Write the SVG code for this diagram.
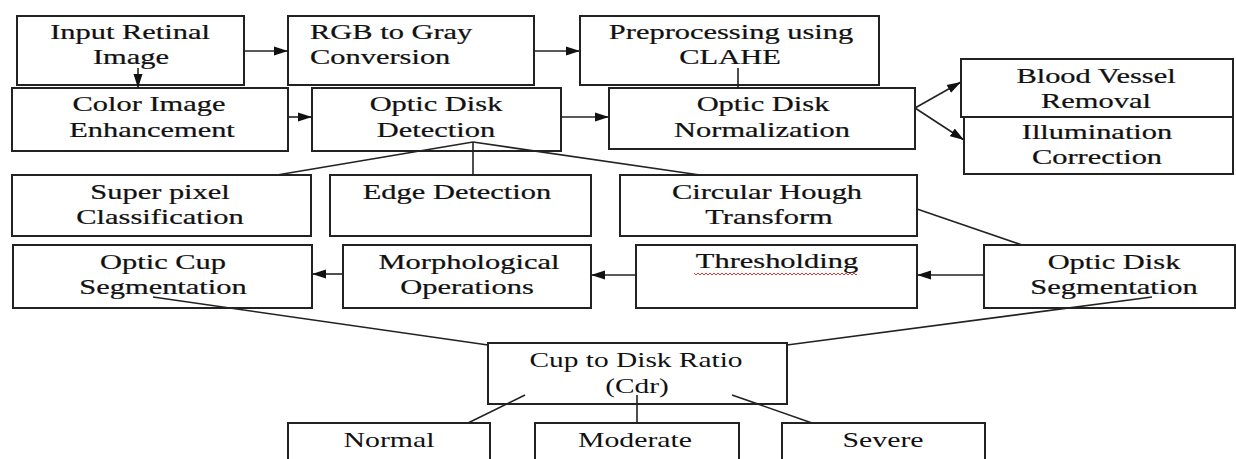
<svg xmlns="http://www.w3.org/2000/svg" width="1236" height="459" viewBox="0 0 1236 459">
  <style>
    .box { fill: #ffffff; stroke: #222222; stroke-width: 2; }
    .lbl { font-family: "Liberation Serif", "Times New Roman", "DejaVu Serif", serif; font-size: 21px; fill: #111111; stroke: #111111; stroke-width: 0.22; text-anchor: middle; }
    .thin { stroke: none; }
    .lft { text-anchor: start; }
    .edge { fill: none; stroke: #222222; stroke-width: 1.6; }
    .arr { marker-end: url(#ah); }
  </style>
  <defs>
    <marker id="ah" markerWidth="14" markerHeight="10" refX="14" refY="5" orient="auto" markerUnits="userSpaceOnUse">
      <path d="M0,0.5 L14,5 L0,9.5 z" fill="#111111"/>
    </marker>
    <pattern id="wave" width="4" height="4" patternUnits="userSpaceOnUse">
      <path d="M0,3 L2,1 L4,3" fill="none" stroke="#e02020" stroke-width="0.9"/>
    </pattern>
  </defs>

  <rect width="1236" height="459" fill="#ffffff"/>

  <!-- nodes -->
  <g id="input">
    <rect class="box" x="17" y="16" width="227" height="69"/>
    <text class="lbl" transform="matrix(1.45 0 0 1 130 39)">Input Retinal</text>
    <text class="lbl" transform="matrix(1.45 0 0 1 131 64)">Image</text>
  </g>
  <g id="rgb2gray">
    <rect class="box" x="288" y="16" width="246" height="69"/>
    <text class="lbl lft" transform="matrix(1.45 0 0 1 310 39)">RGB to Gray</text>
    <text class="lbl lft" transform="matrix(1.45 0 0 1 310 64)">Conversion</text>
  </g>
  <g id="clahe">
    <rect class="box" x="580" y="16" width="299" height="69"/>
    <text class="lbl" transform="matrix(1.45 0 0 1 731 39)">Preprocessing using</text>
    <text class="lbl" transform="matrix(1.45 0 0 1 730 64)">CLAHE</text>
  </g>
  <g id="color-enh">
    <rect class="box" x="12" y="88" width="276" height="63"/>
    <text class="lbl" transform="matrix(1.45 0 0 1 149 111)">Color Image</text>
    <text class="lbl" transform="matrix(1.45 0 0 1 152 137)">Enhancement</text>
  </g>
  <g id="od-detect">
    <rect class="box" x="312" y="88" width="249" height="63"/>
    <text class="lbl" transform="matrix(1.45 0 0 1 436 111)">Optic Disk</text>
    <text class="lbl" transform="matrix(1.45 0 0 1 436 137)">Detection</text>
  </g>
  <g id="od-norm">
    <rect class="box" x="609" y="88" width="306" height="61"/>
    <text class="lbl" transform="matrix(1.45 0 0 1 763 111)">Optic Disk</text>
    <text class="lbl" transform="matrix(1.45 0 0 1 762 137)">Normalization</text>
  </g>
  <g id="vessel">
    <rect class="box" x="961" y="59" width="272" height="58"/>
    <text class="lbl" transform="matrix(1.45 0 0 1 1096 83)">Blood Vessel</text>
    <text class="lbl" transform="matrix(1.45 0 0 1 1096 108)">Removal</text>
  </g>
  <g id="illum">
    <rect class="box" x="964" y="117" width="269" height="57"/>
    <text class="lbl" transform="matrix(1.45 0 0 1 1097 139)">Illumination</text>
    <text class="lbl" transform="matrix(1.45 0 0 1 1097 164)">Correction</text>
  </g>
  <g id="superpixel">
    <rect class="box" x="12" y="175" width="299" height="61"/>
    <text class="lbl" transform="matrix(1.45 0 0 1 160 199)">Super pixel</text>
    <text class="lbl" transform="matrix(1.45 0 0 1 160 224)">Classification</text>
  </g>
  <g id="edge-det">
    <rect class="box" x="330" y="175" width="261" height="61"/>
    <text class="lbl" transform="matrix(1.45 0 0 1 457 199)">Edge Detection</text>
  </g>
  <g id="hough">
    <rect class="box" x="620" y="175" width="297" height="61"/>
    <text class="lbl" transform="matrix(1.45 0 0 1 767 199)">Circular Hough</text>
    <text class="lbl" transform="matrix(1.45 0 0 1 769 224)">Transform</text>
  </g>
  <g id="cup-seg">
    <rect class="box" x="13" y="245" width="299" height="63"/>
    <text class="lbl" transform="matrix(1.45 0 0 1 163 269)">Optic Cup</text>
    <text class="lbl" transform="matrix(1.45 0 0 1 163 294)">Segmentation</text>
  </g>
  <g id="morph">
    <rect class="box" x="343" y="245" width="248" height="63"/>
    <text class="lbl" transform="matrix(1.45 0 0 1 469 269)">Morphological</text>
    <text class="lbl" transform="matrix(1.45 0 0 1 467 294)">Operations</text>
  </g>
  <g id="threshold">
    <rect class="box" x="636" y="245" width="281" height="63"/>
    <text class="lbl" transform="matrix(1.45 0 0 1 777 268)">Thresholding</text>
    <rect x="694" y="271" width="163" height="4" fill="url(#wave)"/>
  </g>
  <g id="disk-seg">
    <rect class="box" x="984" y="245" width="251" height="63"/>
    <text class="lbl" transform="matrix(1.45 0 0 1 1114 269)">Optic Disk</text>
    <text class="lbl" transform="matrix(1.45 0 0 1 1114 294)">Segmentation</text>
  </g>
  <g id="cdr">
    <rect class="box" x="488" y="343" width="299" height="61"/>
    <text class="lbl thin" transform="matrix(1.4 0 0 1 636 367)">Cup to Disk Ratio</text>
    <text class="lbl thin" transform="matrix(1.4 0 0 1 637 393)">(Cdr)</text>
  </g>
  <g id="normal">
    <rect class="box" x="288" y="423" width="202" height="50"/>
    <text class="lbl thin" transform="matrix(1.42 0 0 1 389 447)">Normal</text>
  </g>
  <g id="moderate">
    <rect class="box" x="535" y="423" width="204" height="50"/>
    <text class="lbl thin" transform="matrix(1.42 0 0 1 635 447)">Moderate</text>
  </g>
  <g id="severe">
    <rect class="box" x="782" y="423" width="203" height="50"/>
    <text class="lbl thin" transform="matrix(1.42 0 0 1 883 447)">Severe</text>
  </g>

  <!-- connectors, drawn over the boxes so lines that start inside a box stay visible -->
  <g id="connectors">
    <line class="edge arr" x1="244" y1="51" x2="288" y2="51"/>
    <line class="edge arr" x1="138" y1="68" x2="138" y2="88"/>
    <line class="edge arr" x1="534" y1="51" x2="580" y2="51"/>
    <line class="edge" x1="738" y1="68" x2="738" y2="88"/>
    <line class="edge arr" x1="288" y1="117" x2="312" y2="117"/>
    <line class="edge arr" x1="561" y1="117" x2="609" y2="117"/>
    <line class="edge arr" x1="915" y1="108" x2="961" y2="82"/>
    <line class="edge arr" x1="915" y1="108" x2="964" y2="140"/>
    <line class="edge" x1="473" y1="142" x2="277" y2="175"/>
    <line class="edge" x1="473" y1="142" x2="473" y2="175"/>
    <line class="edge" x1="473" y1="142" x2="700" y2="175"/>
    <line class="edge" x1="917" y1="209" x2="1022" y2="245"/>
    <line class="edge arr" x1="984" y1="275" x2="917" y2="275"/>
    <line class="edge arr" x1="636" y1="275" x2="591" y2="275"/>
    <line class="edge arr" x1="343" y1="274" x2="312" y2="274"/>
    <line class="edge" x1="153" y1="297" x2="488" y2="345"/>
    <line class="edge" x1="1152" y1="297" x2="787" y2="345"/>
    <line class="edge" x1="525" y1="395" x2="468" y2="423"/>
    <line class="edge" x1="637" y1="395" x2="637" y2="423"/>
    <line class="edge" x1="732" y1="395" x2="812" y2="423"/>
  </g>
</svg>
